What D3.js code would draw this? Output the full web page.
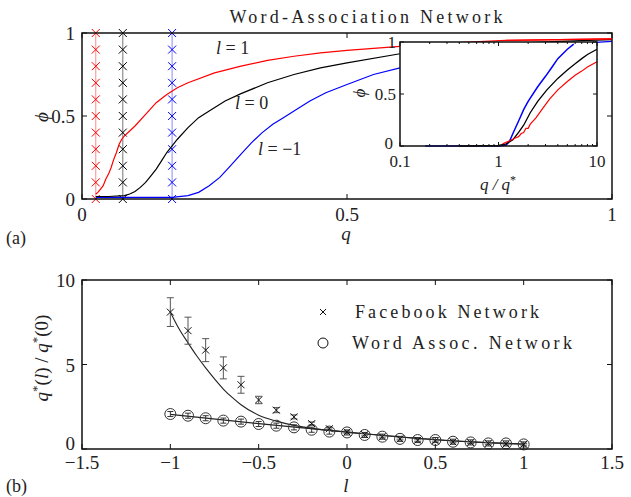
<!DOCTYPE html>
<html>
<head>
<meta charset="utf-8">
<script src="https://cdnjs.cloudflare.com/ajax/libs/d3/7.8.5/d3.min.js"></script>
<style>
  body { margin: 0; background: #fff; }
</style>
</head>
<body>
<div id="chart"></div>
<script>
// ---- panel (a): phi vs q, main curves
var redMain = [[0.026,0.03],[0.03,0.04],[0.035,0.06],[0.04,0.08],[0.045,0.12],[0.05,0.15],[0.055,0.19],[0.06,0.24],[0.065,0.28],[0.07,0.33],[0.075,0.36],[0.08,0.38],[0.09,0.41],[0.1,0.44],[0.12,0.51],[0.14,0.58],[0.16,0.63],[0.18,0.67],[0.2,0.70],[0.25,0.76],[0.3,0.80],[0.35,0.835],[0.4,0.86],[0.45,0.88],[0.5,0.895],[0.6,0.92],[0.7,0.94],[0.8,0.955],[0.9,0.96],[1.0,0.965]];
var blackMain = [[0.026,0.015],[0.05,0.015],[0.08,0.02],[0.09,0.03],[0.1,0.045],[0.11,0.07],[0.12,0.1],[0.13,0.14],[0.14,0.18],[0.15,0.23],[0.16,0.28],[0.17,0.32],[0.18,0.36],[0.2,0.43],[0.22,0.49],[0.24,0.53],[0.27,0.59],[0.3,0.635],[0.35,0.70],[0.4,0.75],[0.45,0.79],[0.5,0.82],[0.6,0.875],[0.7,0.91],[0.8,0.935],[0.9,0.95],[1.0,0.96]];
var blueMain = [[0.026,0.01],[0.17,0.01],[0.2,0.02],[0.22,0.04],[0.24,0.08],[0.26,0.13],[0.28,0.2],[0.3,0.27],[0.32,0.34],[0.34,0.4],[0.36,0.45],[0.38,0.49],[0.4,0.53],[0.43,0.59],[0.46,0.64],[0.5,0.69],[0.55,0.75],[0.6,0.79],[0.7,0.85],[0.8,0.9],[0.9,0.93],[1.0,0.95]];
// threshold q* for each l, with marker rows
var qStar = [0.026, 0.077, 0.17];
var qStarColors = ["#ff0000", "#000000", "#0000ff"];
var qStarLineColors = ["#ff8a8a", "#777777", "#8a8aff"];
var phiMarks = [0,0.1,0.2,0.3,0.4,0.5,0.6,0.7,0.8,0.9,1];

// ---- inset: phi vs q/q*
var redInset = [[1.1,0.02],[1.3,0.05],[1.5,0.08],[1.6,0.09],[1.7,0.12],[1.8,0.13],[1.9,0.17],[2.0,0.17],[2.1,0.21],[2.4,0.27],[2.8,0.36],[3.3,0.45],[4,0.54],[5,0.62],[6,0.68],[7,0.72],[8,0.76],[10,0.81]];
var blackInset = [[0.4,0],[1.0,0.005],[1.2,0.02],[1.4,0.06],[1.6,0.13],[1.8,0.2],[2.1,0.32],[2.5,0.43],[3.1,0.54],[4,0.65],[5,0.73],[6,0.79],[7,0.84],[8,0.88],[10,0.93]];
var blueInset = [[0.18,0],[1.0,0],[1.2,0.01],[1.3,0.05],[1.4,0.12],[1.6,0.24],[1.8,0.35],[2.0,0.43],[2.5,0.57],[3.0,0.67],[3.5,0.76],[4,0.84],[5,0.93],[5.8,0.98]];

// ---- panel (b): q*(l)/q*(0) vs l
var lVals = [-1,-0.9,-0.8,-0.7,-0.6,-0.5,-0.4,-0.3,-0.2,-0.1,0,0.1,0.2,0.3,0.4,0.5,0.6,0.7,0.8,0.9,1];
var fbVals = [8.1,7.0,5.85,4.8,3.8,2.9,2.3,1.9,1.5,1.2,1.0,0.85,0.72,0.6,0.52,0.48,0.42,0.38,0.33,0.3,0.28];
var fbErr = [0.85,0.8,0.68,0.65,0.5,0.22,0.15,0.12,0.1,0.08,0.07,0.07,0.06,0.06,0.06,0.06,0.05,0.05,0.05,0.05,0.05];
var waVals = [2.07,1.97,1.82,1.68,1.62,1.48,1.38,1.28,1.14,1.03,0.98,0.83,0.73,0.6,0.53,0.53,0.43,0.39,0.33,0.33,0.27];
var waErr = [0.15,0.15,0.15,0.15,0.15,0.15,0.15,0.15,0.15,0.15,0.15,0.15,0.15,0.15,0.15,0.15,0.15,0.15,0.15,0.15,0.15];
var fbFit = [[-1,8.1],[-0.95,7.1],[-0.9,6.28],[-0.85,5.5],[-0.8,4.8],[-0.75,4.15],[-0.7,3.55],[-0.65,3.05],[-0.6,2.62],[-0.5,2.0],[-0.4,1.65],[-0.3,1.4],[-0.2,1.22],[-0.1,1.1],[0,1.0],[0.2,0.8],[0.4,0.63],[0.6,0.49],[0.8,0.38],[1,0.3]];
var waFit = [[-1,2.05],[-0.5,1.5],[0,1.0],[0.5,0.55],[1,0.28]];

var W = 631, H = 497;
var FONT = "'Liberation Serif', serif";
var svg = d3.select("#chart").append("svg").attr("width", W).attr("height", H);

function txt(g, x, y, s, size) {
  return g.append("text").attr("x", x).attr("y", y).attr("font-size", size || 19)
    .attr("font-family", FONT).attr("fill", "#222").text(s);
}
function frame(g, x0, y0, w, h) {
  g.append("rect").attr("x", x0).attr("y", y0).attr("width", w).attr("height", h)
    .attr("fill", "none").attr("stroke", "#111").attr("stroke-width", 1.5);
}
function ticksX(g, scale, vals, yBot, yTop, len) {
  vals.forEach(function(v) {
    g.append("line").attr("x1", scale(v)).attr("x2", scale(v)).attr("y1", yBot).attr("y2", yBot - len).attr("stroke", "#111");
    g.append("line").attr("x1", scale(v)).attr("x2", scale(v)).attr("y1", yTop).attr("y2", yTop + len).attr("stroke", "#111");
  });
}
function ticksY(g, scale, vals, xL, xR, len) {
  vals.forEach(function(v) {
    g.append("line").attr("y1", scale(v)).attr("y2", scale(v)).attr("x1", xL).attr("x2", xL + len).attr("stroke", "#111");
    g.append("line").attr("y1", scale(v)).attr("y2", scale(v)).attr("x1", xR).attr("x2", xR - len).attr("stroke", "#111");
  });
}
function cross(g, cx, cy, s, col, sw) {
  g.append("path").attr("d", "M" + (cx - s) + "," + (cy - s) + "L" + (cx + s) + "," + (cy + s) +
    "M" + (cx - s) + "," + (cy + s) + "L" + (cx + s) + "," + (cy - s))
    .attr("stroke", col).attr("stroke-width", sw || 1);
}

// ================= panel (a)
var ga = svg.append("g");
var xA = d3.scaleLinear().domain([0, 1]).range([82, 612]);
var yA = d3.scaleLinear().domain([0, 1]).range([199, 33]);
var lineA = d3.line().x(function(d) { return xA(d[0]); }).y(function(d) { return yA(d[1]); });

// q* marker columns
qStar.forEach(function(q, i) {
  ga.append("line").attr("x1", xA(q)).attr("x2", xA(q)).attr("y1", yA(0)).attr("y2", yA(1))
    .attr("stroke", qStarLineColors[i]).attr("stroke-width", 1);
  phiMarks.forEach(function(p) { cross(ga, xA(q), yA(p), 4, qStarColors[i], 1); });
});

ga.append("path").datum(blueMain).attr("d", lineA).attr("fill", "none").attr("stroke", "#0000ff").attr("stroke-width", 1.2);
ga.append("path").datum(blackMain).attr("d", lineA).attr("fill", "none").attr("stroke", "#000").attr("stroke-width", 1.2);
ga.append("path").datum(redMain).attr("d", lineA).attr("fill", "none").attr("stroke", "#ff0000").attr("stroke-width", 1.2);

frame(ga, 82, 33, 530, 166);
ticksX(ga, xA, [0, 0.5, 1], 199, 33, 5);
ticksY(ga, yA, [0, 0.5, 1], 82, 612, 5);

[0, 0.5, 1].forEach(function(v) {
  txt(ga, xA(v), 221, v).attr("text-anchor", "middle");
  txt(ga, 75, yA(v) + 7, v).attr("text-anchor", "end");
});
txt(ga, 346, 240, "q").attr("text-anchor", "middle").attr("font-style", "italic");
txt(ga, 0, 0, "ϕ").attr("transform", "translate(48,117) rotate(-90)").attr("text-anchor", "middle").attr("font-style", "italic");
txt(ga, 366, 23, "Word-Association Network", 18).attr("text-anchor", "middle")
  .attr("textLength", 273).attr("lengthAdjust", "spacing");
txt(ga, 6, 244, "(a)", 18);

// curve labels
function lLabel(x, y, val) {
  var t = txt(ga, x, y, null, 18);
  t.append("tspan").attr("font-style", "italic").text("l");
  t.append("tspan").text(" = " + val);
}
lLabel(216, 54, "1");
lLabel(235, 109, "0");
lLabel(258, 155, "−1");

// inset
var gi = svg.append("g");
var xI = d3.scaleLog().domain([0.1, 10]).range([400, 597]);
var yI = d3.scaleLinear().domain([0, 1]).range([146, 42]);
var lineI = d3.line().x(function(d) { return xI(d[0]); }).y(function(d) { return yI(d[1]); });
gi.append("rect").attr("x", 400).attr("y", 42).attr("width", 197).attr("height", 104).attr("fill", "#fff");
gi.append("path").datum(blueInset).attr("d", lineI).attr("fill", "none").attr("stroke", "#0000ff").attr("stroke-width", 1.5);
gi.append("path").datum(blackInset).attr("d", lineI).attr("fill", "none").attr("stroke", "#000").attr("stroke-width", 1.3);
gi.append("path").datum(redInset).attr("d", lineI).attr("fill", "none").attr("stroke", "#ff0000").attr("stroke-width", 1.2);
frame(gi, 400, 42, 197, 104);
var minor = [0.2,0.3,0.4,0.5,0.6,0.7,0.8,0.9,2,3,4,5,6,7,8,9];
ticksX(gi, xI, [0.1, 1, 10], 146, 42, 4);
ticksX(gi, xI, minor, 146, 42, 2);
ticksY(gi, yI, [0, 0.5, 1], 400, 597, 4);
[0.1, 1, 10].forEach(function(v) {
  txt(gi, xI(v), 167, v, 17).attr("text-anchor", "middle");
});
[0, 0.5, 1].forEach(function(v) {
  txt(gi, v === 0 ? 393 : 396, yI(v) + (v === 0 ? 3 : 6), v, 17).attr("text-anchor", "end");
});
var qq = txt(gi, 498, 190, null, 17).attr("text-anchor", "middle").attr("font-style", "italic");
qq.append("tspan").text("q / q");
qq.append("tspan").attr("dy", -6).attr("font-size", 12).attr("font-style", "normal").text("*");
txt(gi, 0, 0, "ϕ", 17).attr("transform", "translate(365,93) rotate(-90)").attr("text-anchor", "middle").attr("font-style", "italic");

// main red line peeks above the inset top
ga.append("path").datum(redMain.filter(function(d) { return d[0] >= 0.8; })).attr("d", lineA)
  .attr("fill", "none").attr("stroke", "#ff0000").attr("stroke-width", 1.2);

// ================= panel (b)
var gb = svg.append("g");
var xB = d3.scaleLinear().domain([-1.5, 1.5]).range([82, 612]);
var yB = d3.scaleLinear().domain([0, 10]).range([449, 280]);
var lineB = d3.line().curve(d3.curveMonotoneX).x(function(d) { return xB(d[0]); }).y(function(d) { return yB(d[1]); });

gb.append("path").datum(fbFit).attr("d", lineB).attr("fill", "none").attr("stroke", "#222").attr("stroke-width", 1.1);
gb.append("path").datum(waFit).attr("d", lineB).attr("fill", "none").attr("stroke", "#222").attr("stroke-width", 1.1);

function errBar(g, x, y0, y1, cap, col) {
  g.append("line").attr("x1", x).attr("x2", x).attr("y1", y0).attr("y2", y1).attr("stroke", col);
  g.append("line").attr("x1", x - cap).attr("x2", x + cap).attr("y1", y0).attr("y2", y0).attr("stroke", col);
  g.append("line").attr("x1", x - cap).attr("x2", x + cap).attr("y1", y1).attr("y2", y1).attr("stroke", col);
}

lVals.forEach(function(l, i) {
  var cx = xB(l);
  // word association: circles with small error bars
  gb.append("circle").attr("cx", cx).attr("cy", yB(waVals[i])).attr("r", 5.5)
    .attr("fill", "none").attr("stroke", "#333").attr("stroke-width", 1);
  errBar(gb, cx, yB(waVals[i] - waErr[i]), yB(waVals[i] + waErr[i]), 3, "#333");
  // facebook: crosses with error bars
  errBar(gb, cx, yB(fbVals[i] - fbErr[i]), yB(fbVals[i] + fbErr[i]), 3.5, "#555");
  cross(gb, cx, yB(fbVals[i]), 3.5, "#111", 1);
});

frame(gb, 82, 280, 530, 169);
ticksX(gb, xB, [-1.5, -1, -0.5, 0, 0.5, 1, 1.5], 449, 280, 5);
ticksY(gb, yB, [0, 5, 10], 82, 612, 5);
[-1.5, -1, -0.5, 0, 0.5, 1, 1.5].forEach(function(v) {
  txt(gb, xB(v), 469, v < 0 ? "−" + Math.abs(v) : v).attr("text-anchor", "middle");
});
[0, 5, 10].forEach(function(v) {
  txt(gb, 75, yB(v) + (v === 0 ? 1 : 7), v).attr("text-anchor", "end");
});
txt(gb, 346, 492, "l").attr("text-anchor", "middle").attr("font-style", "italic");
var yl = txt(gb, 0, 0, null).attr("transform", "translate(48,358) rotate(-90)").attr("text-anchor", "middle").attr("font-style", "italic");
yl.append("tspan").text("q");
yl.append("tspan").attr("dy", -7).attr("font-size", 13).attr("font-style", "normal").text("*");
yl.append("tspan").attr("dy", 7).attr("font-style", "normal").text("(");
yl.append("tspan").text("l");
yl.append("tspan").attr("font-style", "normal").text(") / ");
yl.append("tspan").text("q");
yl.append("tspan").attr("dy", -7).attr("font-size", 13).attr("font-style", "normal").text("*");
yl.append("tspan").attr("dy", 7).attr("font-style", "normal").text("(0)");
txt(gb, 6, 492, "(b)", 18);

// legend
cross(gb, 323, 312, 3, "#111", 1);
gb.append("circle").attr("cx", 323).attr("cy", 343).attr("r", 5).attr("fill", "none").attr("stroke", "#111");
txt(gb, 355, 318, "Facebook Network", 18).attr("textLength", 184).attr("lengthAdjust", "spacing");
txt(gb, 352, 349, "Word Assoc. Network", 18).attr("textLength", 220).attr("lengthAdjust", "spacing");
</script>
</body>
</html>
